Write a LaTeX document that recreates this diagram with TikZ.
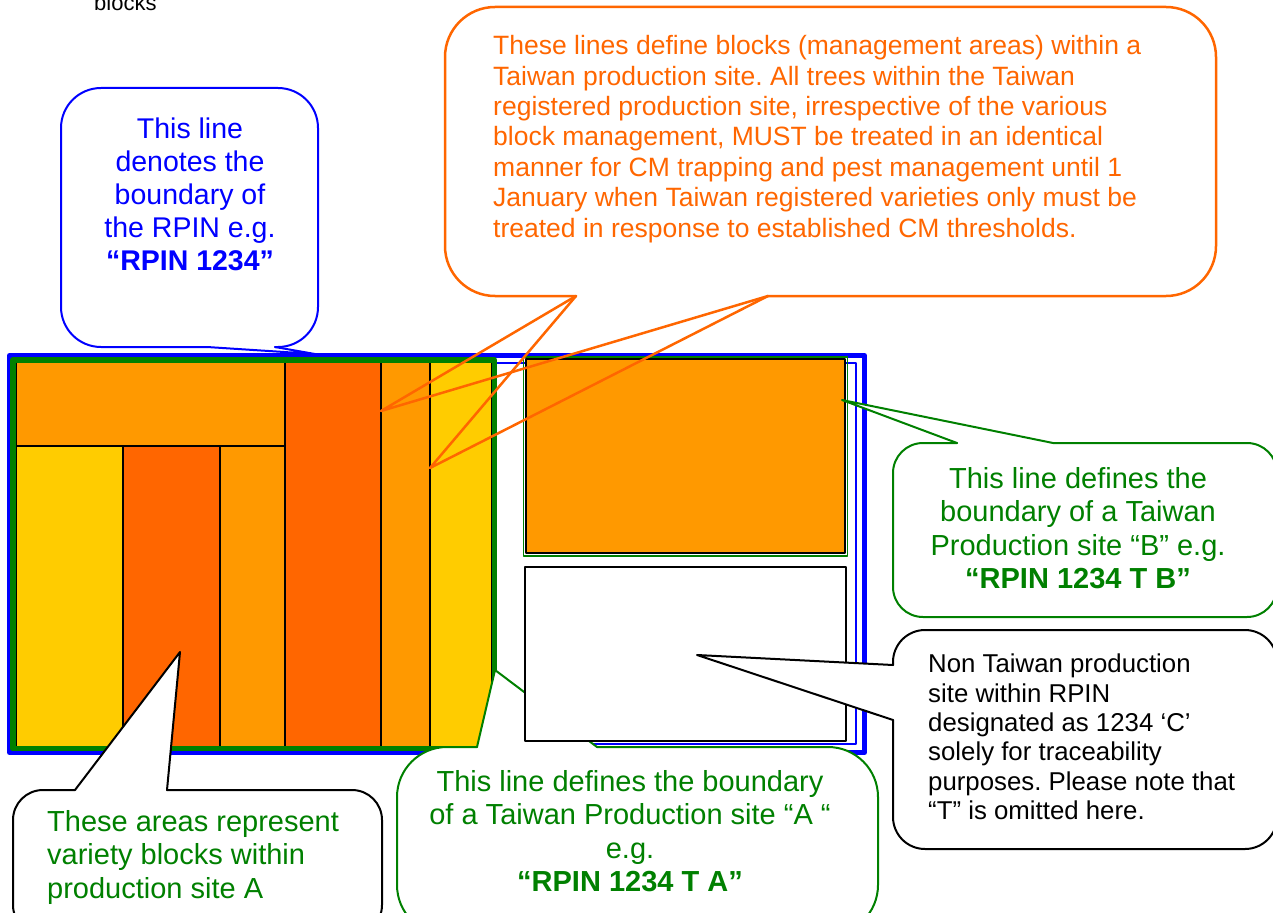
\documentclass[tikz,border=0pt]{standalone}
\usepackage{fontspec}
\setmainfont{Liberation Sans}
\frenchspacing
\definecolor{cblue}{RGB}{0,0,255}
\definecolor{cgreen}{RGB}{0,128,0}
\definecolor{cdark}{RGB}{255,102,0}
\definecolor{camber}{RGB}{255,153,0}
\definecolor{cyellow}{RGB}{255,204,0}
\begin{document}
\begin{tikzpicture}[x=1pt,y=-1pt,line join=round,line cap=round,
  blk/.style={draw=black,line width=1.8pt},
  gline/.style={draw=cgreen,line width=2pt},
  kline/.style={draw=black,line width=2pt},
  bline/.style={draw=cblue,line width=2pt},
  oline/.style={draw=cdark,line width=2.5pt},
  big/.style={font=\fontsize{29}{33.5}\selectfont},
  mid/.style={font=\fontsize{26.5}{30.4}\selectfont},
  small/.style={font=\fontsize{25.8}{29.4}\selectfont}]
\useasboundingbox (0,0) rectangle (1273,912);

% RPIN boundary (blue)
\draw[cblue,line width=1.8pt] (16,363) rectangle (856,744);
\draw[cblue,line width=5pt] (9.5,355.5) rectangle (864.5,752.5);

% variety blocks of site A
\path[fill=camber,blk]   (16,362) rectangle (285,446);
\path[fill=cyellow,blk]  (16,446) rectangle (123,747);
\path[fill=cdark,blk]    (123,446) rectangle (220,747);
\path[fill=camber,blk]   (220,446) rectangle (285,747);
\path[fill=cdark,blk]    (285,362) rectangle (381,747);
\path[fill=camber,blk]   (381,362) rectangle (430,747);
\path[fill=cyellow,blk]  (430,362) rectangle (492,747);
% site A boundary (green)
\draw[cgreen,line width=5.5pt] (12.75,359.75) rectangle (494.25,748.5);

% site B
\path[fill=camber,draw=black,line width=2pt] (526,359) rectangle (845,553);
\draw[cgreen,line width=1.8pt] (523.5,357) rectangle (847.5,556);

% callout A
\coordinate (tipA) at (495,670);
\coordinate (aL) at (477,747);
\coordinate (aR) at (597,747);
\fill[white] (aL) -- (tipA) -- (aR) -- cycle;
\fill[white,rounded corners=50pt] (397,747) rectangle (878,935);
\draw[gline,rounded corners=50pt] (aR) -- (878,747) -- (878,935) -- (397,935) -- (397,747) -- (aL);
\draw[gline] (aL) -- (tipA) -- (aR);
\node[big,text=cgreen,align=center] (txtA) at (630,831)
  {This line defines the boundary\\of a Taiwan Production site “A “\\e.g.\\\textbf{“RPIN 1234 T A”}};

% site C (non Taiwan)
\path[fill=white,draw=black,line width=2pt] (525,567) rectangle (846,741);

% callout: variety blocks
\coordinate (tipV) at (180,652);
\coordinate (vL) at (75,790);
\coordinate (vR) at (167,790);
\fill[white] (vL) -- (tipV) -- (vR) -- cycle;
\fill[white,rounded corners=30pt] (13,790) rectangle (382,935);
\draw[kline,rounded corners=30pt] (vR) -- (382,790) -- (382,935) -- (13,935) -- (13,790) -- (vL);
\draw[kline] (vL) -- (tipV) -- (vR);
\node[big,text=cgreen,align=left,anchor=west,inner sep=0pt] (txtV) at (47,857)
  {These areas represent\\variety blocks within\\production site A};

% callout B
\coordinate (tipB) at (842,400);
\coordinate (bL) at (957,443);
\coordinate (bR) at (1053,443);
\fill[white] (bL) -- (tipB) -- (bR) -- cycle;
\fill[white,rounded corners=30pt] (893,443) rectangle (1277,617);
\draw[gline,rounded corners=30pt] (bR) -- (1277,443) -- (1277,617) -- (893,617) -- (893,443) -- (bL);
\draw[gline] (bL) -- (tipB) -- (bR);
\node[big,text=cgreen,align=center] (txtB) at (1078,528)
  {This line defines the\\boundary of a Taiwan\\Production site “B” e.g.\\\textbf{“RPIN 1234 T B”}};

% callout C
\coordinate (tipC) at (697,655);
\coordinate (cT) at (893,665);
\coordinate (cB) at (893,720);
\fill[white] (cT) -- (tipC) -- (cB) -- cycle;
\fill[white,rounded corners=32pt] (893,630) rectangle (1277,849);
\draw[kline,rounded corners=32pt] (cT) -- (893,630) -- (1277,630) -- (1277,849) -- (893,849) -- (cB);
\draw[kline] (cT) -- (tipC) -- (cB);
\node[small,text=black,align=left,anchor=west,inner sep=0pt] (txtC) at (928,737)
  {Non Taiwan production\\site within RPIN\\designated as 1234 ‘C’\\solely for traceability\\purposes. Please note that\\“T” is omitted here.};

% callout RPIN (blue)
\coordinate (tipR) at (315,354);
\coordinate (rL) at (207,347);
\coordinate (rR) at (275,347);
\draw[bline,rounded corners=40pt] (rR) -- (318,347) -- (318,88) -- (61,88) -- (61,347) -- (rL);
\draw[bline] (rL) -- (tipR) -- (rR);
\node[font=\fontsize{28.5}{33}\selectfont,text=cblue,align=center] (txtR) at (190,194)
  {This line\\denotes the\\boundary of\\the RPIN e.g.\\\textbf{“RPIN 1234”}};

% callout blocks (orange)
\coordinate (tipO1) at (381,411);
\coordinate (tipO2) at (430,468);
\coordinate (oL) at (576,296);
\coordinate (oR) at (768,296);
\draw[oline,rounded corners=50pt] (oR) -- (1216,296) -- (1216,7) -- (445,7) -- (445,296) -- (oL);
\draw[oline] (oL) -- (tipO1) -- (oR);
\draw[oline] (oL) -- (tipO2) -- (oR);
\node[mid,text=cdark,align=left,anchor=west,inner sep=0pt] (txtO) at (493,139)
  {These lines define blocks (management areas) within a\\Taiwan production site. All trees within the Taiwan\\registered production site, irrespective of the various\\block management, MUST be treated in an identical\\manner for CM trapping and pest management until 1\\January when Taiwan registered varieties only must be\\treated in response to established CM thresholds.};

% cut-off heading text
\node[font=\fontsize{22}{26}\selectfont,anchor=base west,inner sep=0pt] (head) at (94,11) {blocks};
\end{tikzpicture}
\end{document}
